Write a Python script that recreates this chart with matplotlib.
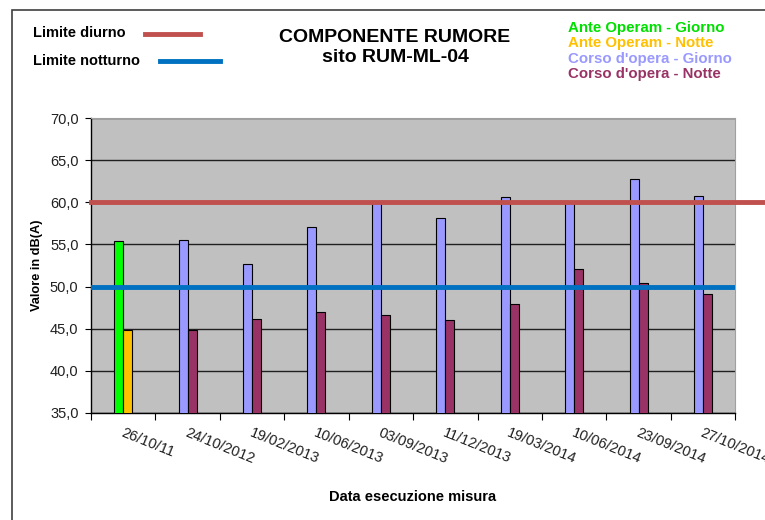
import matplotlib
matplotlib.use("Agg")
import matplotlib.pyplot as plt
from matplotlib.patches import Rectangle
import numpy as np

plt.rcParams["font.family"] = ["Liberation Sans", "DejaVu Sans"]

# measurement dates and measured levels (dB(A))
dates = ["26/10/11", "24/10/2012", "19/02/2013", "10/06/2013", "03/09/2013",
         "11/12/2013", "19/03/2014", "10/06/2014", "23/09/2014", "27/10/2014"]
giorno = [55.4, 55.5, 52.7, 57.1, 60.0, 58.1, 60.6, 60.0, 62.8, 60.8]
notte = [44.8, 44.8, 46.2, 47.0, 46.6, 46.0, 47.9, 52.1, 50.4, 49.1]
phase = ["ante", "corso", "corso", "corso", "corso",
         "corso", "corso", "corso", "corso", "corso"]

limite_diurno = 60.0
limite_notturno = 50.0

colors_giorno = {"ante": "#00FF00", "corso": "#9999FF"}
colors_notte = {"ante": "#FFC000", "corso": "#993366"}

fig = plt.figure(figsize=(7.65, 5.2), dpi=100)
ax = fig.add_axes([0.119, 0.206, 0.842, 0.567])
ax.set_facecolor("#C0C0C0")

x = np.arange(len(dates))
w = 0.14
ax.bar(x - w / 2, giorno, w, bottom=0,
       color=[colors_giorno[p] for p in phase], edgecolor="black", linewidth=0.8, zorder=3)
ax.bar(x + w / 2, notte, w, bottom=0,
       color=[colors_notte[p] for p in phase], edgecolor="black", linewidth=0.8, zorder=3)

ax.set_ylim(35, 70)
ax.set_xlim(-0.5, len(dates) - 0.5)
ax.set_yticks(np.arange(35, 71, 5))
ax.set_yticklabels([f"{v:.1f}".replace(".", ",") for v in np.arange(35, 71, 5)],
                   fontsize=10.5, color="#202020")
ax.yaxis.grid(True, color="#202020", linewidth=1.0, zorder=1)
ax.set_axisbelow(True)

# limits (the daytime one runs out past the plot, as in the source)
ax.plot([-0.5, 9.97], [limite_diurno] * 2, color="#C0504D", linewidth=3.5, zorder=4, clip_on=False)
ax.axhline(limite_notturno, color="#0070C0", linewidth=3.5, zorder=4)

# x ticks at group boundaries, labels rotated below
ax.set_xticks(np.arange(-0.5, len(dates), 1.0))
ax.set_xticklabels([])
ax.tick_params(axis="x", length=5, width=0.8, direction="out")
ax.tick_params(axis="y", length=4, width=0.8, direction="out", pad=5)
for i, d in enumerate(dates):
    ax.text(i + 0.01, 33.5, d, rotation=-22, ha="left", va="top", fontsize=10.5,
            color="#202020", rotation_mode="anchor")

for s in ["left", "bottom"]:
    ax.spines[s].set_color("black")
    ax.spines[s].set_linewidth(1.0)
for s in ["top", "right"]:
    ax.spines[s].set_color("#A0A0A0")

ax.set_ylabel("Valore in dB(A)", fontsize=9.2, fontweight="bold", labelpad=5)
fig.text(413 / 765, 1 - 497 / 520, "Data esecuzione misura", ha="center", va="center",
         fontsize=10.5, fontweight="bold")

# title
fig.text(395 / 765, 1 - 38 / 520, "COMPONENTE RUMORE", ha="center", va="center",
         fontsize=14, fontweight="bold")
fig.text(395 / 765, 1 - 57 / 520, "sito RUM-ML-04", ha="center", va="center",
         fontsize=14, fontweight="bold")

# limit legend
fig.text(33 / 765, 1 - 33 / 520, "Limite diurno", ha="left", va="center", fontsize=10.5, fontweight="bold")
fig.text(33 / 765, 1 - 61 / 520, "Limite notturno", ha="left", va="center", fontsize=10.5, fontweight="bold")
fig.add_artist(plt.Line2D([145 / 765, 200 / 765], [1 - 34 / 520] * 2, color="#C0504D", linewidth=3.5))
fig.add_artist(plt.Line2D([160 / 765, 220 / 765], [1 - 61 / 520] * 2, color="#0070C0", linewidth=3.5))

# phase legend
legend_items = [("Ante Operam - Giorno", "#00E000"), ("Ante Operam - Notte", "#FFC000"),
                ("Corso d'opera - Giorno", "#9999FF"), ("Corso d'opera - Notte", "#993366")]
for k, (lbl, c) in enumerate(legend_items):
    fig.text(568 / 765, 1 - (28 + 15.3 * k) / 520, lbl, ha="left", va="center",
             fontsize=10.8, fontweight="bold", color=c)

# outer frame
fig.add_artist(Rectangle((12 / 765, -0.1), 1.2, 1 - 10 / 520 + 0.1, transform=fig.transFigure,
                         fill=False, edgecolor="#404040", linewidth=1.2))

fig.savefig("out.png", dpi=100)
